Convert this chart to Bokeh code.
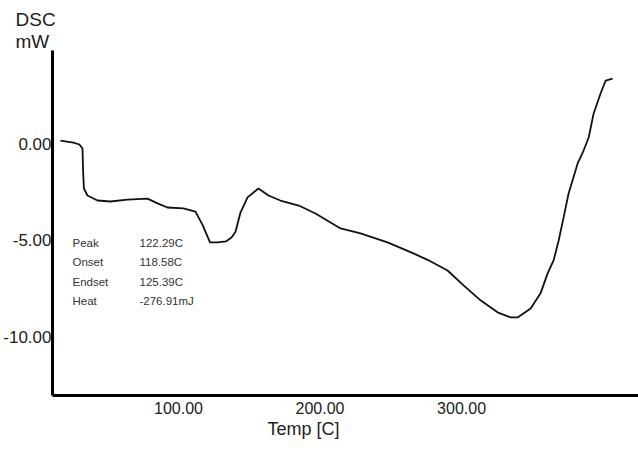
from bokeh.plotting import figure
from bokeh.models import Range1d, FixedTicker, NumeralTickFormatter, Label, Title
from bokeh.embed import file_html
from bokeh.resources import INLINE

# DSC trace: temperature (C) and heat flow (mW)
temp = [16.6, 25.8, 30.0, 32.2, 32.6, 33.2, 35.7, 42.8, 51.9, 64.0, 78.1,
        85.2, 92.2, 103.5, 112.0, 117.0, 122.29, 127.6, 133.5, 137.5, 140.3,
        143.8, 148.8, 156.5, 163.6, 172.0, 185.0, 196.8, 214.5, 228.6, 247.7,
        266.0, 276.0, 290.1, 301.4, 313.4, 325.4, 334.6, 339.6, 348.8, 355.8,
        360.8, 365.0, 368.6, 372.1, 375.6, 378.4, 382.0, 386.2, 389.8, 393.3,
        398.2, 401.8, 406.7]
dsc = [0.15, 0.05, -0.05, -0.26, -1.39, -2.32, -2.68, -2.94, -2.99, -2.89, -2.84,
       -3.09, -3.30, -3.35, -3.51, -4.20, -5.10, -5.10, -5.05, -4.85, -4.55,
       -3.56, -2.78, -2.32, -2.68, -2.94, -3.20, -3.61, -4.38, -4.64, -5.10,
       -5.67, -6.00, -6.55, -7.32, -8.09, -8.71, -8.97, -8.97, -8.51, -7.73,
       -6.70, -6.03, -5.00, -3.81, -2.58, -1.91, -1.03, -0.36, 0.31, 1.55,
       2.58, 3.25, 3.35]

x_ticks = [100, 200, 300]
y_ticks = [-10, -5, 0]

# peak analysis readout
result_names = ["Peak", "Onset", "Endset", "Heat"]
result_values = ["122.29C", "118.58C", "125.39C", "-276.91mJ"]

FONT = "Liberation Sans"

p = figure(width=638, height=450, output_backend="svg", toolbar_location=None,
           title=None,
           x_range=Range1d(11, 425), y_range=Range1d(-13.0, 4.8),
           min_border_left=52, min_border_right=0, min_border_top=50,
           min_border_bottom=55)
p.outline_line_color = None
p.xgrid.visible = False
p.ygrid.visible = False
p.background_fill_color = "white"
p.border_fill_color = "white"

p.line(temp, dsc, line_color="#111111", line_width=1.8)

for ax, ticks, standoff, size in ((p.xaxis[0], x_ticks, 6, "16px"),
                                  (p.yaxis[0], y_ticks, 1, "17px")):
    ax.ticker = FixedTicker(ticks=ticks)
    ax.formatter = NumeralTickFormatter(format="0.00")
    ax.axis_line_width = 3
    ax.axis_line_color = "black"
    ax.major_tick_out = 0
    ax.major_tick_in = 0
    ax.minor_tick_out = 0
    ax.minor_tick_in = 0
    ax.major_label_standoff = standoff
    ax.major_label_text_font = FONT
    ax.major_label_text_font_size = size
    ax.major_label_text_color = "#222222"

# axis titles
p.add_layout(Title(text="DSC\nmW", align="left", offset=-37, standoff=-3,
                   text_font=FONT, text_font_size="19px", text_font_style="normal",
                   text_color="#222222", text_line_height=1.05), "above")
p.add_layout(Title(text="Temp [C]", align="left", offset=215, standoff=0,
                   text_font=FONT, text_font_size="18px", text_font_style="normal",
                   text_color="#222222"), "below")

for i, (name, val) in enumerate(zip(result_names, result_values)):
    yy = 153 - i * 19.5
    p.add_layout(Label(x=20, y=yy, x_units="screen", y_units="screen", text=name,
                       text_font=FONT, text_font_size="11.5px", text_color="#333333",
                       text_baseline="middle"))
    p.add_layout(Label(x=87, y=yy, x_units="screen", y_units="screen", text=val,
                       text_font=FONT, text_font_size="11.5px", text_color="#333333",
                       text_baseline="middle"))

open("out.html", "w").write(file_html(p, INLINE))
